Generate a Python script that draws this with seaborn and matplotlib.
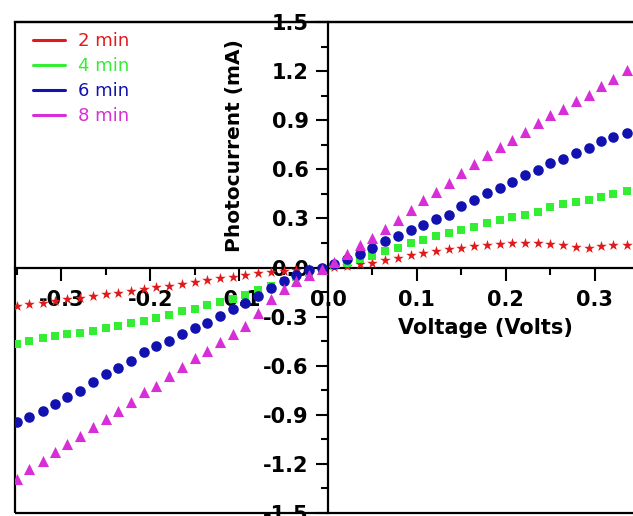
import numpy as np
import pandas as pd
import seaborn as sns
import matplotlib
matplotlib.use("Agg")
import matplotlib.pyplot as plt
from matplotlib.lines import Line2D
from matplotlib.patches import Rectangle
from matplotlib.ticker import MultipleLocator

# ========================== DATA ==========================
voltage = [-0.350, -0.336, -0.321, -0.307, -0.293, -0.279, -0.264, -0.250, -0.236, -0.221,
           -0.207, -0.193, -0.179, -0.164, -0.150, -0.136, -0.121, -0.107, -0.093, -0.079,
           -0.064, -0.050, -0.036, -0.021, -0.007, 0.007, 0.021, 0.036, 0.050, 0.064,
           0.079, 0.093, 0.107, 0.121, 0.136, 0.150, 0.164, 0.179, 0.193, 0.207,
           0.221, 0.236, 0.250, 0.264, 0.279, 0.293, 0.307, 0.321, 0.336, 0.350]

i_2min = [-0.235, -0.225, -0.215, -0.205, -0.195, -0.184, -0.175, -0.164, -0.154, -0.144,
          -0.134, -0.122, -0.110, -0.098, -0.087, -0.076, -0.066, -0.056, -0.046, -0.036,
          -0.028, -0.020, -0.013, -0.007, -0.002, 0.003, 0.010, 0.020, 0.030, 0.045,
          0.060, 0.075, 0.088, 0.098, 0.110, 0.120, 0.130, 0.137, 0.143, 0.148,
          0.150, 0.148, 0.142, 0.135, 0.125, 0.120, 0.130, 0.138, 0.140, 0.140]

i_4min = [-0.470, -0.450, -0.430, -0.418, -0.408, -0.398, -0.387, -0.370, -0.357, -0.340,
          -0.327, -0.306, -0.288, -0.268, -0.252, -0.228, -0.208, -0.192, -0.165, -0.138,
          -0.112, -0.085, -0.060, -0.035, -0.010, 0.010, 0.030, 0.050, 0.070, 0.100,
          0.120, 0.150, 0.170, 0.190, 0.210, 0.230, 0.250, 0.270, 0.290, 0.310,
          0.320, 0.340, 0.370, 0.390, 0.400, 0.410, 0.430, 0.450, 0.470, 0.480]

i_6min = [-0.945, -0.915, -0.875, -0.834, -0.793, -0.753, -0.702, -0.651, -0.611, -0.570,
          -0.519, -0.479, -0.448, -0.408, -0.367, -0.337, -0.296, -0.256, -0.215, -0.172,
          -0.128, -0.085, -0.045, -0.016, -0.003, 0.020, 0.050, 0.080, 0.120, 0.160,
          0.190, 0.230, 0.260, 0.296, 0.320, 0.373, 0.414, 0.458, 0.485, 0.525,
          0.566, 0.596, 0.637, 0.660, 0.698, 0.728, 0.770, 0.800, 0.820, 0.840]

i_8min = [-1.290, -1.230, -1.180, -1.128, -1.077, -1.027, -0.976, -0.925, -0.875, -0.824,
          -0.763, -0.722, -0.661, -0.610, -0.550, -0.509, -0.458, -0.408, -0.355, -0.275,
          -0.190, -0.130, -0.082, -0.045, -0.012, 0.035, 0.085, 0.135, 0.180, 0.235,
          0.290, 0.350, 0.410, 0.460, 0.515, 0.575, 0.635, 0.685, 0.735, 0.780,
          0.825, 0.880, 0.930, 0.970, 1.020, 1.055, 1.110, 1.150, 1.205, 1.240]

series_names = ["2 min", "4 min", "6 min", "8 min"]
series_colors = ["#e01a1a", "#33ee33", "#1212b0", "#d82ed8"]
series_markers = ["*", "s", "o", "^"]
series_sizes = [64, 36, 58, 64]

x_ticks = [-0.3, -0.2, -0.1, 0.0, 0.1, 0.2, 0.3]
x_tick_labels = ["-0.3", "-0.2", "-0.1", "0.0", "0.1", "0.2", "0.3"]
y_ticks = [-1.5, -1.2, -0.9, -0.6, -0.3, 0.0, 0.3, 0.6, 0.9, 1.2, 1.5]
y_tick_labels = ["-1.5", "-1.2", "-0.9", "-0.6", "-0.3", "0.0", "0.3", "0.6", "0.9", "1.2", "1.5"]

df = pd.DataFrame({
    "Voltage": voltage * 4,
    "Photocurrent": i_2min + i_4min + i_6min + i_8min,
    "Time": [n for n in series_names for _ in voltage],
})

# ========================== PLOT ==========================
sns.set_style("white")
plt.rcParams["font.family"] = ["DejaVu Sans"]
plt.rcParams["text.color"] = "black"
plt.rcParams["axes.labelcolor"] = "black"
plt.rcParams["xtick.color"] = "black"
plt.rcParams["ytick.color"] = "black"

fig = plt.figure(figsize=(6.33, 5.16), dpi=100)
ax = fig.add_axes([15 / 633, 3 / 516, 626 / 633, 491 / 516])

for name, col, mk, sz in zip(series_names, series_colors, series_markers, series_sizes):
    sns.scatterplot(data=df[df["Time"] == name], x="Voltage", y="Photocurrent",
                    color=col, marker=mk, s=sz, linewidth=0, ax=ax,
                    legend=False, zorder=3)

ax.set_xlim(-0.352, 0.352)
ax.set_ylim(-1.5, 1.5)

# crossed axes through the origin, plus the outer box
ax.spines["left"].set_position(("data", 0))
ax.spines["bottom"].set_position(("data", 0))
for sp in ax.spines.values():
    sp.set_linewidth(1.6)
    sp.set_color("black")
ax.add_patch(Rectangle((0, 0), 1, 1, transform=ax.transAxes, fill=False,
                       lw=1.6, edgecolor="black", clip_on=False, zorder=2))

ax.set_xticks(x_ticks)
ax.set_xticklabels(x_tick_labels, fontsize=15, fontweight="bold", color="black")
ax.set_yticks(y_ticks)
ax.set_yticklabels(y_tick_labels, fontsize=15, fontweight="bold", color="black")
ax.xaxis.set_minor_locator(MultipleLocator(0.05))
ax.yaxis.set_minor_locator(MultipleLocator(0.15))
ax.tick_params(which="major", direction="out", length=9, width=1.5, color="black")
ax.tick_params(which="minor", direction="out", length=5, width=1.5, color="black")
ax.tick_params(axis="x", which="major", pad=7)
ax.tick_params(axis="y", which="major", pad=5)
ax.tick_params(bottom=True, left=True, top=False, right=False, which="both")

ax.set_xlabel("Voltage (Volts)", fontsize=15, fontweight="bold", color="black")
ax.set_ylabel("Photocurrent (mA)", fontsize=14.5, fontweight="bold", color="black")
ax.xaxis.set_label_coords(0.751, 0.398)
ax.yaxis.set_label_coords(0.366, 0.749)

handles = [Line2D([], [], color=c, lw=2.2) for c in series_colors]
ax.legend(handles, series_names, loc="upper left", bbox_to_anchor=(0.028, 0.98),
          frameon=False, fontsize=13, labelcolor="linecolor", borderpad=0,
          borderaxespad=0, handlelength=1.8, handletextpad=0.72, labelspacing=0.39)

plt.savefig("out.png", dpi=100)
